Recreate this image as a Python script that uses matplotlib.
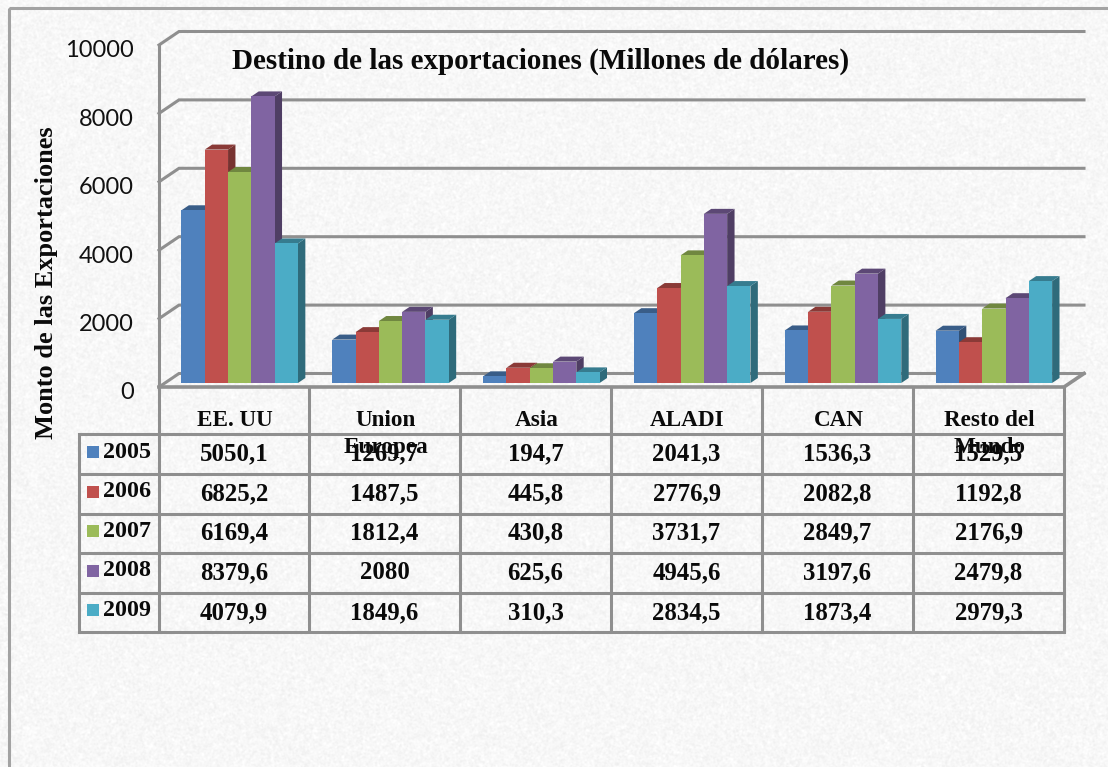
import numpy as np
import matplotlib
matplotlib.use('Agg')
import matplotlib.pyplot as plt
from matplotlib.patches import Polygon, Rectangle
from matplotlib.colors import to_rgb
from matplotlib.transforms import ScaledTranslation

categories = ['EE. UU', 'Union\nEuropea', 'Asia', 'ALADI', 'CAN', 'Resto del\nMundo']
years = ['2005', '2006', '2007', '2008', '2009']
v2005 = [5050.1, 1269.7, 194.7, 2041.3, 1536.3, 1529.5]
v2006 = [6825.2, 1487.5, 445.8, 2776.9, 2082.8, 1192.8]
v2007 = [6169.4, 1812.4, 430.8, 3731.7, 2849.7, 2176.9]
v2008 = [8379.6, 2080, 625.6, 4945.6, 3197.6, 2479.8]
v2009 = [4079.9, 1849.6, 310.3, 2834.5, 1873.4, 2979.3]
series = [v2005, v2006, v2007, v2008, v2009]
colors = ['#4f81bd', '#c0504d', '#9bbb59', '#8064a2', '#4bacc6']
yticks = [0, 2000, 4000, 6000, 8000, 10000]

W, H = 1108, 767
GRID = '#8f8f8f'
SERIF = 'Liberation Serif'


def darker(c, f):
    return tuple(x * f for x in to_rgb(c))


def fmt(v):
    return str(v).replace('.', ',')


fig = plt.figure(figsize=(W / 100, H / 100), dpi=100, facecolor='white')

# background paper with the grey frame, pixel coordinates
bg = fig.add_axes([0, 0, 1, 1])
bg.set_xlim(0, W)
bg.set_ylim(H, 0)
bg.axis('off')
rng = np.random.default_rng(3)
noise = rng.normal(size=(H, W))
fx = np.fft.fftfreq(W)[None, :]
fy = np.fft.fftfreq(H)[:, None]
blur = np.fft.ifft2(np.fft.fft2(noise) * np.exp(-(fx ** 2 + fy ** 2) * 2 * 2.5 ** 2)).real
blur = blur / blur.std()
paper = np.clip(0.968 + 0.010 * blur, 0, 1)
bg.imshow(paper, cmap='gray', vmin=0, vmax=1, extent=(0, W, H, 0), aspect='auto', zorder=0)
bg.add_patch(Rectangle((9, 8), W, H, fill=False, ec='#a3a3a3', lw=2.2, zorder=1))

# chart axes: front plane of the 3D box
left, right, top, bottom = 159, 1064, 45, 387
ax = fig.add_axes([left / W, 1 - bottom / H, (right - left) / W, (bottom - top) / H])
ax.patch.set_alpha(0)
ax.set_xlim(-0.5, 5.5)
ax.set_ylim(0, 10000)
for s in ax.spines.values():
    s.set_visible(False)
ax.set_xticks([])
ax.set_yticks(yticks)
ax.tick_params(length=0, pad=18, labelsize=17, labelcolor='#111111')
for t in ax.get_yticklabels():
    t.set_family('Lato')
    t.set_transform(t.get_transform() + ScaledTranslation(0, -4 / 100, fig.dpi_scale_trans))

px_x = 6.0 / (right - left)
px_y = 10000 / (bottom - top)
back_dx, back_dy = 20 * px_x, 13.5 * px_y
bar_dx, bar_dy = 7.4 * px_x, 5 * px_y
base = 4 * px_y

# back wall gridlines and the slanted floor/wall edges
for y in yticks:
    ax.plot([-0.5, -0.5 + back_dx, 5.5 + back_dx], [y, y + back_dy, y + back_dy],
            color=GRID, lw=2.2, clip_on=False, zorder=1, solid_joinstyle='miter')
ax.plot([-0.5, -0.5], [0, 10000], color=GRID, lw=2.2, clip_on=False, zorder=1)
ax.plot([-0.5, 5.5, 5.5 + back_dx], [0, 0, back_dy], color=GRID, lw=2.6, clip_on=False, zorder=1)

# bars, painted left to right so each front hides the side before it
bar_w = 23.3 * px_x
off = 0.035
x = np.arange(len(categories))
for j, vals in enumerate(series):
    xs = x + off + (j - 2) * bar_w
    for xi, v in zip(xs, vals):
        x0, x1 = xi - bar_w / 2, xi + bar_w / 2
        y1 = base + v
        z = 3 + j
        ax.add_patch(Polygon([(x1, base), (x1 + bar_dx, base + bar_dy), (x1 + bar_dx, y1 + bar_dy), (x1, y1)],
                             fc=darker(colors[j], 0.62), ec='none', zorder=z, clip_on=False))
        ax.add_patch(Polygon([(x0, y1), (x0 + bar_dx, y1 + bar_dy), (x1 + bar_dx, y1 + bar_dy), (x1, y1)],
                             fc=darker(colors[j], 0.72), ec='none', zorder=z, clip_on=False))
    ax.bar(xs, vals, bar_w, bottom=base, color=colors[j], zorder=3 + j)

# table and text on top, pixel coordinates
ov = fig.add_axes([0, 0, 1, 1])
ov.set_xlim(0, W)
ov.set_ylim(H, 0)
ov.axis('off')
ov.patch.set_alpha(0)

col_x = [159, 309, 460, 611, 762, 913, 1064]
row_y = [434.3, 474.3, 513.7, 553.3, 592.7, 632.3]
for cx in col_x:
    ov.plot([cx, cx], [387, row_y[-1]], color=GRID, lw=2.2, solid_capstyle='projecting')
for ry in row_y:
    ov.plot([79, 1064], [ry, ry], color=GRID, lw=2.2, solid_capstyle='projecting')
ov.plot([79, 79], [row_y[0], row_y[-1]], color=GRID, lw=2.2, solid_capstyle='projecting')

tkw = dict(family=SERIF, weight='bold', color='#0a0a0a')
for i, name in enumerate(categories):
    cx = (col_x[i] + col_x[i + 1]) / 2
    for k, part in enumerate(name.split('\n')):
        ov.text(cx + 1, 420 + 27.5 * k, part, ha='center', va='center', fontsize=16.7, **tkw)
for j, vals in enumerate(series):
    ry = 454 + j * 39.6
    ov.add_patch(Rectangle((87, ry - 8), 12, 12, fc=colors[j], ec='none'))
    ov.text(103, ry - 2, years[j], ha='left', va='center', fontsize=17.3, **tkw)
    for i, v in enumerate(vals):
        cx = (col_x[i] + col_x[i + 1]) / 2
        ov.text(cx, ry, fmt(v), ha='center', va='center', fontsize=17.8, **tkw)

ov.text(541, 61, 'Destino de las exportaciones (Millones de dólares)', ha='center', va='center',
        fontsize=21, **tkw)
ov.text(47, 283, 'Monto de las Exportaciones', ha='center', va='center', rotation=90, fontsize=19, **tkw)

fig.savefig('out.png', dpi=100)
